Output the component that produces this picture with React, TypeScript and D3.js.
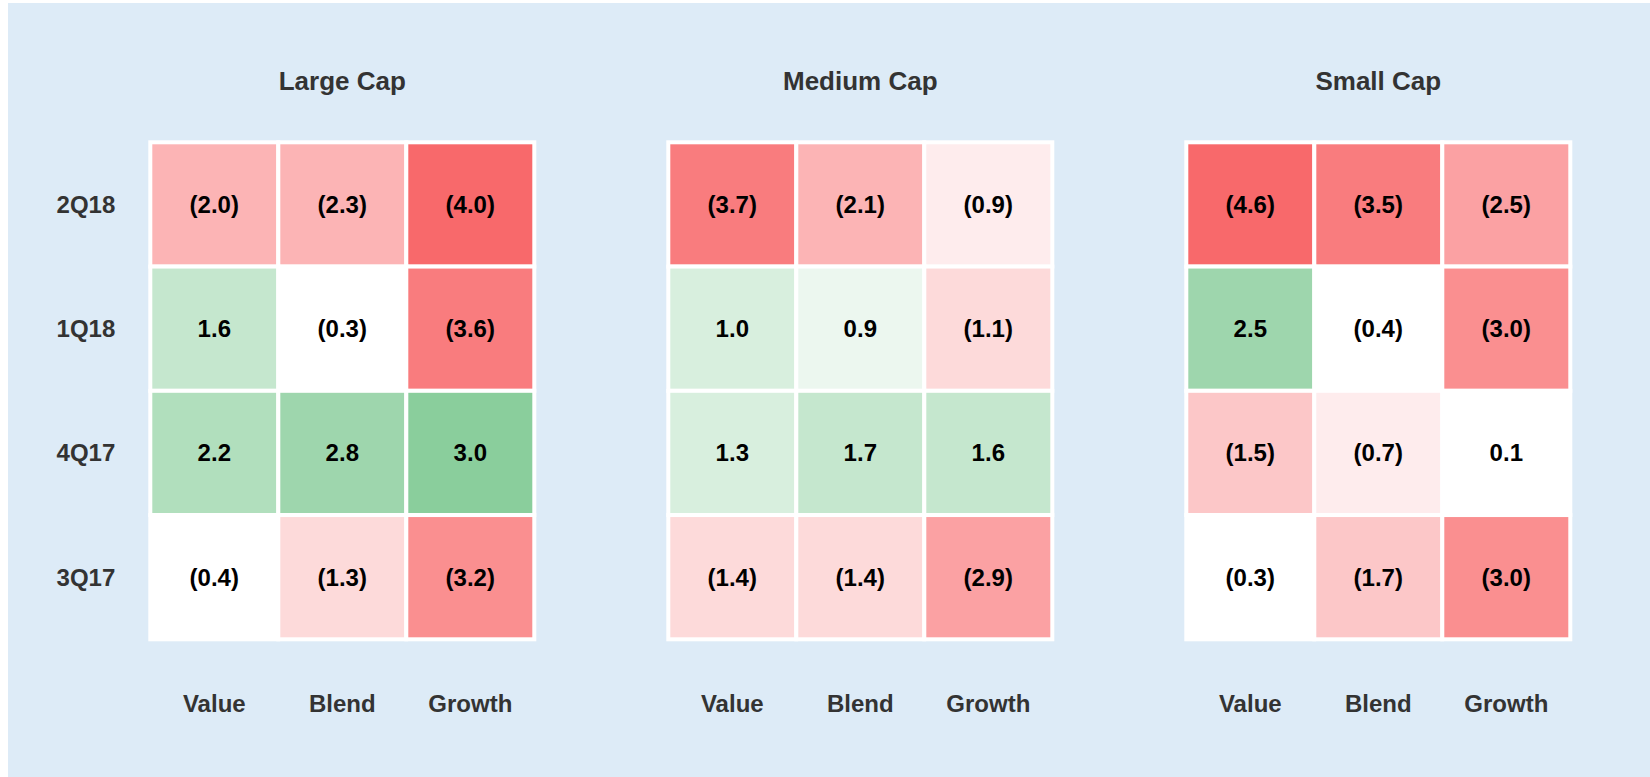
import React from "react";
import * as d3 from "d3";

const columns = ["Value", "Blend", "Growth"];
const rows = ["2Q18", "1Q18", "4Q17", "3Q17"];
const panelTitles = ["Large Cap", "Medium Cap", "Small Cap"];

const largeCap = [
  [-2.0, -2.3, -4.0],
  [1.6, -0.3, -3.6],
  [2.2, 2.8, 3.0],
  [-0.4, -1.3, -3.2],
];
const mediumCap = [
  [-3.7, -2.1, -0.9],
  [1.0, 0.9, -1.1],
  [1.3, 1.7, 1.6],
  [-1.4, -1.4, -2.9],
];
const smallCap = [
  [-4.6, -3.5, -2.5],
  [2.5, -0.4, -3.0],
  [-1.5, -0.7, 0.1],
  [-0.3, -1.7, -3.0],
];
const panels = [largeCap, mediumCap, smallCap];

const W = 1650;
const H = 777;
const FONT = "'Liberation Sans', Arial, Helvetica, sans-serif";

const levelScale = d3
  .scaleThreshold<number, number>()
  .domain([0.5, 1.0, 1.5, 2.0, 2.5, 3.0, 3.5, 4.0])
  .range([0, 1, 2, 3, 4, 5, 6, 7, 8]);
const redInterp = d3.interpolateRgb("#ffffff", "#f8696b");
const greenInterp = d3.interpolateRgb("#ffffff", "#63be7b");
const colorFor = (v: number) => {
  const t = levelScale(Math.abs(v) + 1e-9) / 8;
  return v < 0 ? redInterp(t) : greenInterp(t);
};
const fmt = (v: number) =>
  v < 0 ? `(${d3.format(".1f")(Math.abs(v))})` : d3.format(".1f")(v);

export default function App() {
  const plotLeft0 = 150.3;
  const panelPitch = 518;
  const plotW = 384;
  const plotTop = 142.3;
  const plotH = 497;

  const y = d3.scaleBand<string>().domain(rows).range([plotTop, plotTop + plotH]);

  return (
    <svg
      width={W}
      height={H}
      style={{ position: "absolute", left: 0, top: 0 }}
      fontFamily={FONT}
    >
      <rect x={8} y={3} width={W - 8} height={H - 3} fill="#ddebf7" />
      {panels.map((data, pi) => {
        const left = plotLeft0 + pi * panelPitch;
        const x = d3.scaleBand<string>().domain(columns).range([left, left + plotW]);
        return (
          <g key={pi}>
            <text
              x={left + plotW / 2}
              y={90}
              textAnchor="middle"
              fontSize={26}
              fontWeight="bold"
              fill="#333333"
            >
              {panelTitles[pi]}
            </text>
            {data.map((row, ri) =>
              row.map((v, ci) => (
                <rect
                  key={`${ri}-${ci}`}
                  x={x(columns[ci])}
                  y={y(rows[ri])}
                  width={x.bandwidth()}
                  height={y.bandwidth()}
                  fill={colorFor(v)}
                  stroke="#ffffff"
                  strokeWidth={4}
                />
              ))
            )}
            {data.map((row, ri) =>
              row.map((v, ci) => (
                <text
                  key={`t${ri}-${ci}`}
                  x={(x(columns[ci]) as number) + x.bandwidth() / 2}
                  y={(y(rows[ri]) as number) + y.bandwidth() / 2 + 8.5}
                  textAnchor="middle"
                  fontSize={24}
                  fontWeight="bold"
                  fill="#000000"
                >
                  {fmt(v)}
                </text>
              ))
            )}
            {columns.map((c) => (
              <text
                key={c}
                x={(x(c) as number) + x.bandwidth() / 2}
                y={712}
                textAnchor="middle"
                fontSize={24}
                fontWeight="bold"
                fill="#333333"
              >
                {c}
              </text>
            ))}
            {pi === 0 &&
              rows.map((r) => (
                <text
                  key={r}
                  x={left - 35}
                  y={(y(r) as number) + y.bandwidth() / 2 + 8.5}
                  textAnchor="end"
                  fontSize={24}
                  fontWeight="bold"
                  fill="#333333"
                >
                  {r}
                </text>
              ))}
          </g>
        );
      })}
    </svg>
  );
}
